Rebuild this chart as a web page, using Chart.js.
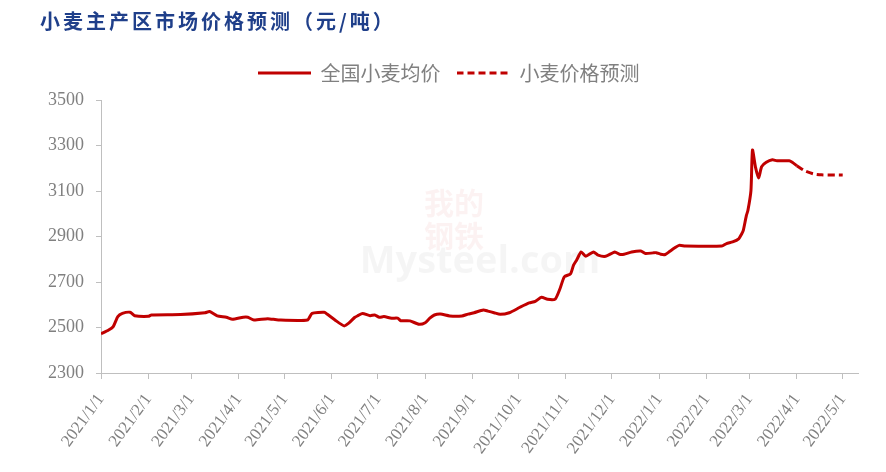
<!DOCTYPE html>
<html>
<head>
<meta charset="utf-8">
<script src="https://cdn.jsdelivr.net/npm/chart.js@4.4.1/dist/chart.umd.min.js"></script>
<style>
  html, body { margin: 0; padding: 0; background: #fff; }
</style>
</head>
<body>
<canvas id="wheat" width="886" height="472"></canvas>
<script>
// 全国小麦均价 (元/吨)
var avgDates = [
  '2021-01-01','2021-01-06','2021-01-09','2021-01-12','2021-01-15','2021-01-20','2021-01-23',
  '2021-02-01','2021-02-03','2021-02-22','2021-03-10','2021-03-13','2021-03-18','2021-03-24',
  '2021-03-28','2021-04-04','2021-04-07','2021-04-11','2021-04-20','2021-04-27','2021-05-16',
  '2021-05-19','2021-05-27','2021-05-29','2021-06-03','2021-06-09','2021-06-12','2021-06-16',
  '2021-06-18','2021-06-21','2021-06-26','2021-06-29','2021-07-02','2021-07-05','2021-07-10',
  '2021-07-14','2021-07-16','2021-07-22','2021-07-28','2021-08-01','2021-08-04','2021-08-07',
  '2021-08-11','2021-08-17','2021-08-25','2021-08-29','2021-09-02','2021-09-08','2021-09-11',
  '2021-09-15','2021-09-19','2021-09-25','2021-10-02','2021-10-08','2021-10-12','2021-10-16',
  '2021-10-20','2021-10-25','2021-10-28','2021-10-31','2021-11-04','2021-11-06','2021-11-08',
  '2021-11-11','2021-11-14','2021-11-19','2021-11-22','2021-11-27','2021-12-03','2021-12-06',
  '2021-12-09','2021-12-14','2021-12-20','2021-12-23','2021-12-28','2021-12-30','2022-01-02',
  '2022-01-05','2022-01-08','2022-01-11','2022-01-14','2022-01-18','2022-02-11','2022-02-14',
  '2022-02-18','2022-02-22','2022-02-24','2022-02-25','2022-02-27','2022-02-28','2022-03-02',
  '2022-03-03','2022-03-05','2022-03-07','2022-03-09','2022-03-12','2022-03-16','2022-03-19',
  '2022-03-27','2022-03-29','2022-04-01'
];
var avgValues = [
  2472, 2489, 2504, 2548, 2562, 2567, 2552,
  2549, 2555, 2557, 2565, 2570, 2551, 2545,
  2536, 2545, 2545, 2533, 2539, 2533, 2533,
  2562, 2567, 2558, 2533, 2507, 2519, 2545,
  2552, 2562, 2552, 2555, 2545, 2548, 2541,
  2541, 2530, 2529, 2514, 2521, 2541, 2555,
  2559, 2551, 2551, 2559, 2565, 2577, 2572,
  2565, 2558, 2565, 2589, 2608, 2615, 2633,
  2624, 2625, 2668, 2723, 2736, 2774, 2796,
  2832, 2813, 2832, 2818, 2813, 2832, 2822,
  2822, 2832, 2836, 2825, 2828, 2829, 2822,
  2821, 2835, 2849, 2861, 2858, 2858, 2869,
  2876, 2890, 2912, 2927, 2992, 3014, 3102,
  3280, 3204, 3157, 3207, 3226, 3237, 3233,
  3233, 3226, 3211
];

// 小麦价格预测
var fcDates = ['2022-04-01','2022-04-06','2022-04-12','2022-04-17','2022-05-01'];
var fcValues = [3211, 3189, 3175, 3171, 3170];

var tickLabels = [
  '2021/1/1','2021/2/1','2021/3/1','2021/4/1','2021/5/1','2021/6/1','2021/7/1','2021/8/1',
  '2021/9/1','2021/10/1','2021/11/1','2021/12/1','2022/1/1','2022/2/1','2022/3/1','2022/4/1','2022/5/1'
];

var yTicks = [2300, 2500, 2700, 2900, 3100, 3300, 3500];

// days since 2021-01-01
function toDay(s) {
  var p = s.split(/[-\/]/);
  return (Date.UTC(+p[0], +p[1] - 1, +p[2]) - Date.UTC(2021, 0, 1)) / 86400000;
}
function toPoints(dates, vals) {
  var out = [];
  for (var i = 0; i < dates.length; i++) {
    out.push({x: toDay(dates[i]), y: vals[i]});
  }
  return out;
}

var tickDays = tickLabels.map(toDay);
var red = '#C00000';
var gray = '#808080';
var axisGray = '#BFBFBF';

// little line images for the legend
function legendLine(dash) {
  var c = document.createElement('canvas');
  c.width = 53;
  c.height = 4;
  var g = c.getContext('2d');
  g.strokeStyle = red;
  g.lineWidth = 3;
  g.setLineDash(dash);
  g.beginPath();
  g.moveTo(0, 2);
  g.lineTo(53, 2);
  g.stroke();
  return c;
}

var titlePlugin = {
  id: 'titleAndMark',
  beforeDraw: function(chart) {
    var ctx = chart.ctx;
    ctx.save();
    // watermark
    ctx.textAlign = 'center';
    ctx.textBaseline = 'middle';
    ctx.fillStyle = 'rgba(192,0,0,0.05)';
    ctx.font = 'bold 30px "Noto Sans CJK SC"';
    ctx.fillText('我的', 454, 203);
    ctx.fillText('钢铁', 454, 236);
    ctx.fillStyle = 'rgba(0,0,0,0.04)';
    ctx.font = 'bold 38px "Open Sans"';
    ctx.fillText('Mysteel.com', 480, 262);
    ctx.restore();
  },
  afterDraw: function(chart) {
    var ctx = chart.ctx;
    ctx.save();
    ctx.fillStyle = '#1F3F8A';
    ctx.font = 'bold 20px "Noto Sans CJK SC"';
    ctx.textAlign = 'left';
    ctx.textBaseline = 'middle';
    if ('letterSpacing' in ctx) ctx.letterSpacing = '3px';
    ctx.fillText('小麦主产区市场价格预测（元/吨）', 40, 21);
    ctx.restore();
  }
};

var ctx1 = document.getElementById('wheat');

var data1 = {
  datasets: [
    {
      label: '全国小麦均价',
      data: toPoints(avgDates, avgValues),
      borderColor: red,
      backgroundColor: red,
      borderWidth: 3,
      pointRadius: 0,
      tension: 0.2,
      pointStyle: legendLine([])
    },
    {
      label: '小麦价格预测',
      data: toPoints(fcDates, fcValues),
      borderColor: red,
      backgroundColor: red,
      borderWidth: 3,
      borderDash: [7, 4],
      pointRadius: 0,
      tension: 0.2,
      pointStyle: legendLine([7, 4])
    }
  ]
};

var options1 = {
  responsive: false,
  animation: false,
  layout: { padding: { top: 47, left: 39, right: 28, bottom: 0 } },
  plugins: {
    tooltip: { enabled: false },
    // empty title used only as a gap under the legend
    title: {
      display: true,
      text: ' ',
      position: 'top',
      weight: 2000,
      font: { size: 6, lineHeight: 1 },
      padding: { top: 0, bottom: 1 }
    },
    legend: {
      display: true,
      position: 'top',
      weight: 3000,
      labels: {
        usePointStyle: true,
        pointStyleWidth: 53,
        font: { family: '"Noto Sans CJK SC"', size: 20 },
        color: gray,
        padding: 16
      }
    }
  },
  scales: {
    x: {
      type: 'linear',
      min: 0,
      max: toDay('2022-05-11'),
      afterBuildTicks: function(scale) {
        scale.ticks = tickDays.map(function(v) { return {value: v}; });
      },
      afterFit: function(scale) { scale.height = 99; },
      grid: { display: true, drawOnChartArea: false, drawTicks: true, tickLength: 6, color: axisGray },
      border: { display: true, color: axisGray },
      ticks: {
        autoSkip: false,
        minRotation: 54,
        maxRotation: 54,
        color: gray,
        font: { family: '"Liberation Serif"', size: 17 },
        padding: 11,
        callback: function(value, index) { return tickLabels[index]; }
      }
    },
    y: {
      min: 2300,
      max: 3500,
      afterBuildTicks: function(scale) {
        scale.ticks = yTicks.map(function(v) { return {value: v}; });
      },
      afterFit: function(scale) { scale.width = 62; },
      grid: { display: true, drawOnChartArea: false, drawTicks: true, tickLength: 5, color: axisGray },
      border: { display: true, color: axisGray },
      ticks: {
        color: gray,
        font: { family: '"Liberation Serif"', size: 18 },
        padding: 12,
        callback: function(value) { return String(value); }
      }
    }
  }
};

var chart1 = new Chart(ctx1, {
  type: 'line',
  data: data1,
  options: options1,
  plugins: [titlePlugin]
});
</script>
</body>
</html>
